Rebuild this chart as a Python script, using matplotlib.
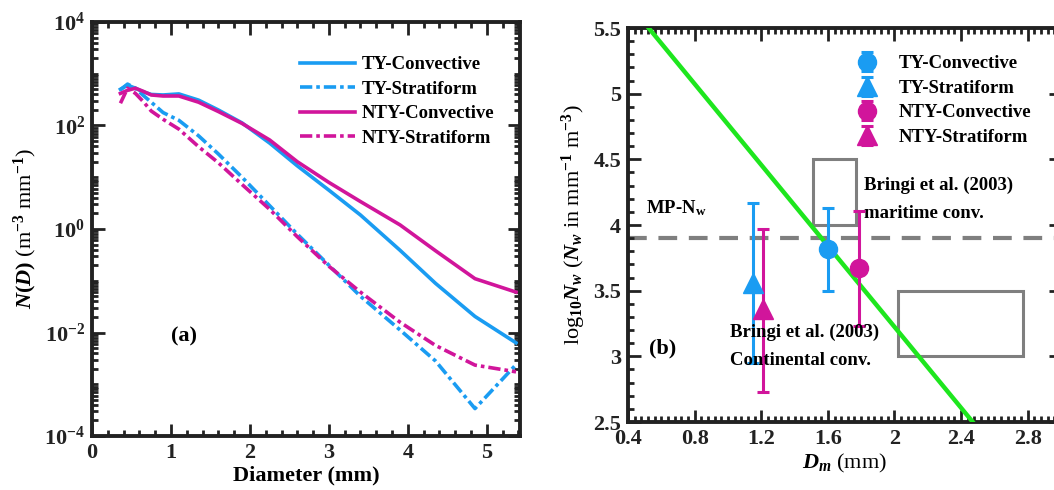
import numpy as np
import matplotlib
matplotlib.use("Agg")
import matplotlib.pyplot as plt
from matplotlib.ticker import FixedLocator, LogLocator, MultipleLocator, NullFormatter, LogFormatterMathtext
from matplotlib.patches import Rectangle

plt.rcParams['font.family'] = ['Liberation Serif', 'DejaVu Serif']
plt.rcParams['font.weight'] = 'bold'
plt.rcParams['mathtext.fontset'] = 'custom'
plt.rcParams['mathtext.rm'] = 'Liberation Serif:bold'
plt.rcParams['mathtext.bf'] = 'Liberation Serif:bold'
plt.rcParams['mathtext.it'] = 'Liberation Serif:italic:bold'
plt.rcParams['mathtext.default'] = 'rm'

# ---------------- data: panel (a) ----------------
diameter = [0.36, 0.45, 0.55, 0.65, 0.75, 0.90, 1.10, 1.35, 1.60, 1.90,
            2.25, 2.60, 3.00, 3.40, 3.90, 4.35, 4.85, 5.37]
log_ty_conv = [2.70, 2.78, 2.72, 2.65, 2.60, 2.59, 2.61, 2.49, 2.30, 2.05,
               1.66, 1.22, 0.75, 0.27, -0.41, -1.05, -1.69, -2.20]
log_ty_strat = [2.69, 2.80, 2.72, 2.58, 2.45, 2.25, 2.10, 1.80, 1.45, 1.00,
                0.45, -0.10, -0.70, -1.30, -1.95, -2.55, -3.47, -2.62]
log_nty_conv = [2.62, 2.68, 2.72, 2.66, 2.59, 2.57, 2.57, 2.45, 2.27, 2.04,
                1.72, 1.30, 0.90, 0.53, 0.08, -0.42, -0.96, -1.22]
log_nty_strat = [2.43, 2.72, 2.62, 2.46, 2.28, 2.12, 1.93, 1.59, 1.28, 0.86,
                 0.38, -0.15, -0.72, -1.22, -1.80, -2.25, -2.63, -2.76]

# ---------------- data: panel (b) ----------------
groups = ['TY-Convective', 'TY-Stratiform', 'NTY-Convective', 'NTY-Stratiform']
dm_vals = [1.60, 1.15, 1.79, 1.21]
lognw_vals = [3.82, 3.56, 3.67, 3.36]
err_low = [3.50, 2.95, 3.23, 2.73]
err_high = [4.13, 4.17, 4.11, 3.97]
markers = ['o', '^', 'o', '^']
fit_dm = [0.524, 2.47]
fit_lognw = [5.5, 2.5]
mp_nw = 3.90
maritime_box = (1.51, 4.0, 1.77, 4.5)     # x0, y0, x1, y1
continental_box = (2.02, 3.0, 2.77, 3.5)

blue = '#1A9CF2'
mag = '#D1159B'
green = '#1EE61E'
grey = '#7F7F7F'

fig = plt.figure(figsize=(10.54, 4.90), dpi=100)

# ---------------- panel (a) ----------------
ax1 = fig.add_axes([92/1054, 1-436/490, 428/1054, 414/490])
lw = 2.6
ds = (0, (3.4, 1.1, 1.0, 1.1))
ax1.plot(diameter, 10**np.array(log_ty_conv), color=blue, lw=lw, label='TY-Convective')
ax1.plot(diameter, 10**np.array(log_ty_strat), color=blue, lw=lw, ls=ds, label='TY-Stratiform')
ax1.plot(diameter, 10**np.array(log_nty_conv), color=mag, lw=lw, label='NTY-Convective')
ax1.plot(diameter, 10**np.array(log_nty_strat), color=mag, lw=lw, ls=ds, label='NTY-Stratiform')
ax1.set_yscale('log')
ax1.set_xlim(0, 5.42)
ax1.set_ylim(1e-4, 1e4)
ax1.yaxis.set_major_locator(FixedLocator([1e-4, 1e-2, 1e0, 1e2, 1e4]))
ax1.yaxis.set_major_formatter(LogFormatterMathtext())
ax1.yaxis.set_minor_locator(LogLocator(base=10, subs=np.arange(1, 10), numticks=100))
ax1.yaxis.set_minor_formatter(NullFormatter())
ax1.xaxis.set_major_locator(MultipleLocator(1))
ax1.xaxis.set_minor_locator(MultipleLocator(0.2))
ax1.set_xlabel('Diameter (mm)', fontsize=16, fontweight='bold', labelpad=2)
ax1.set_ylabel(r'$\mathit{N(D)}$ (m$^{-3}$ mm$^{-1}$)', fontsize=16, labelpad=4)
ax1.text(1.16, 10**-2.07, '(a)', fontsize=16, ha='center', va='center')
leg1 = ax1.legend(loc='upper right', bbox_to_anchor=(0.967, 0.945), frameon=False,
                  fontsize=13.5, handlelength=2.9, handletextpad=0.4, labelspacing=0.4,
                  borderaxespad=0.2)

# ---------------- panel (b) ----------------
ax2 = fig.add_axes([628/1054, 1-422/490, 433/1054, 394/490])
ax2.plot(fit_dm, fit_lognw, color=green, lw=3.2, zorder=3)
ax2.axhline(mp_nw, color=grey, lw=3.0, dashes=(4.5, 2.8), zorder=1)
for (x0, y0, x1, y1) in (maritime_box, continental_box):
    ax2.add_patch(Rectangle((x0, y0), x1 - x0, y1 - y0, fill=False,
                            edgecolor=grey, lw=2.2, zorder=2))
handles = []
cols = [blue, blue, mag, mag]
for i in range(4):
    yerr = [[lognw_vals[i] - err_low[i]], [err_high[i] - lognw_vals[i]]]
    h = ax2.errorbar([dm_vals[i]], [lognw_vals[i]], yerr=yerr, fmt=markers[i],
                     color=cols[i], ms=13 if markers[i] == 'o' else 15, elinewidth=2.2,
                     capsize=4.5, capthick=2.2, label=groups[i], zorder=4)
    handles.append(h)
ax2.set_xlim(0.4, 3.0)
ax2.set_ylim(2.5, 5.5)
ax2.set_xticks([0.4, 0.8, 1.2, 1.6, 2.0, 2.4, 2.8])
ax2.set_xticklabels(['0.4', '0.8', '1.2', '1.6', '2', '2.4', '2.8'])
ax2.set_yticks([2.5, 3, 3.5, 4, 4.5, 5, 5.5])
ax2.set_yticklabels(['2.5', '3', '3.5', '4', '4.5', '5', '5.5'])
ax2.xaxis.set_minor_locator(MultipleLocator(0.04))
ax2.yaxis.set_minor_locator(MultipleLocator(0.1))
ax2.set_xlabel(r'$\mathit{D_m}$ (mm)', fontsize=16, labelpad=2)
ax2.set_ylabel(r'log$_{10}$$\mathit{N_w}$ ($\mathit{N_w}$ in mm$^{-1}$ m$^{-3}$)', fontsize=16, labelpad=4)
ax2.text(0.51, 4.13, r'MP-N$_{\mathrm{w}}$', fontsize=13.5, ha='left', va='center')
ax2.text(1.82, 4.30, 'Bringi et al. (2003)', fontsize=13.5, ha='left', va='center')
ax2.text(1.82, 4.09, 'maritime conv.', fontsize=13.5, ha='left', va='center')
ax2.text(1.01, 3.18, 'Bringi et al. (2003)', fontsize=13.5, ha='left', va='center', zorder=5)
ax2.text(1.01, 2.97, 'Continental conv.', fontsize=13.5, ha='left', va='center', zorder=5)
ax2.text(0.61, 3.06, '(b)', fontsize=16, ha='center', va='center')
leg2 = ax2.legend(handles=handles, labels=groups, loc='upper left',
                  bbox_to_anchor=(0.50, 0.96), frameon=False, fontsize=13.5,
                  handlelength=1.2, handletextpad=1.1, labelspacing=0.4,
                  borderaxespad=0.2)

for ax, fs in ((ax1, 16), (ax2, 16)):
    for s in ax.spines.values():
        s.set_linewidth(2.8)
        s.set_color('#222222')
    ax.tick_params(which='both', direction='in', top=True, right=True,
                   colors='#222222', width=2.0, labelcolor='#222222')
    ax.tick_params(which='major', length=9, labelsize=fs, pad=5)
    ax.tick_params(which='minor', length=4.5)
    for lab in ax.get_xticklabels() + ax.get_yticklabels():
        lab.set_fontweight('bold')

fig.savefig('out.png', dpi=100)
